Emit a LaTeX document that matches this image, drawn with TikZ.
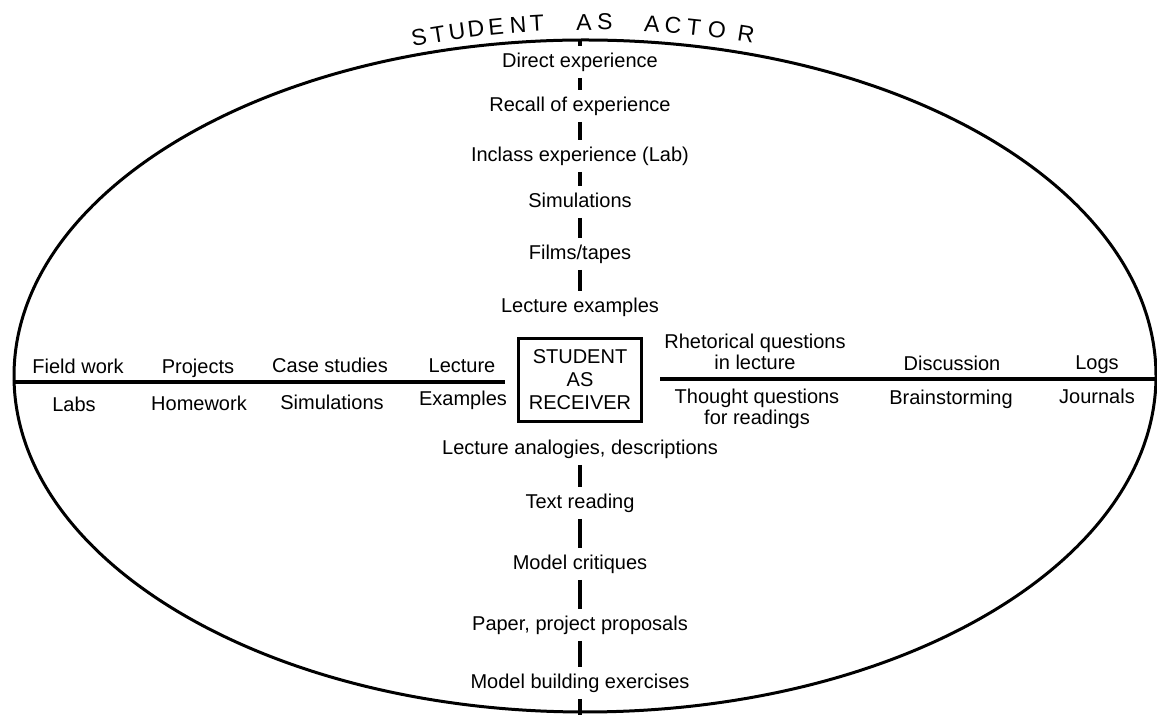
\documentclass[tikz,border=0pt]{standalone}
\usepackage{fontspec}
\setmainfont{Liberation Sans}
\usepackage{tikz}
\usetikzlibrary{shapes.geometric}

\begin{document}
\begin{tikzpicture}[x=0.5pt,y=-0.5pt,
	lbl/.style={font=\fontsize{10pt}{10.5pt}\selectfont,inner sep=3pt,text height=7.5pt,text depth=2pt},
	pair/.style={font=\fontsize{10pt}{10.5pt}\selectfont,align=center,inner sep=0pt},
	bar/.style={line width=2pt},
	rule/.style={line width=1.6pt}]
	\useasboundingbox (0,0) rectangle (1157,715);
	\node[draw,ellipse,line width=1.5pt,minimum width=571pt,minimum height=336pt,inner sep=0pt] (actor) at (585,376) {};
	% title bent over the top of the ellipse
	\foreach \c/\px [count=\i] in {S/419,T/438,U/457,D/476,E/496,N/518,T/537,A/584,S/605,A/652,C/673,T/694,O/717,R/746} {
		\pgfmathsetmacro{\ang}{asin((\px-592)/970)}
		\pgfmathsetmacro{\rot}{-\ang}
		\node[font=\fontsize{11.5pt}{11.5pt}\selectfont,rotate=\rot,inner sep=0pt] (title\i) at (\px,{992-970*cos(\ang)}) {\c};
	}
	% vertical scale
	\node[lbl] (direct) at (580,62) {Direct experience};
	\node[lbl] (recall) at (580,106) {Recall of experience};
	\node[lbl] (inclass) at (580,156) {Inclass experience (Lab)};
	\node[lbl] (simul) at (580,202) {Simulations};
	\node[lbl] (films) at (580,254) {Films/tapes};
	\node[lbl] (lecex) at (580,307) {Lecture examples};
	\node[draw,line width=1.8pt,align=center,font=\fontsize{10pt}{11.5pt}\selectfont,minimum width=61.5pt,minimum height=41.5pt,inner sep=0pt] (receiver) at (580,380) {STUDENT\\AS\\RECEIVER};
	\node[lbl] (analog) at (580,449) {Lecture analogies, descriptions};
	\node[lbl] (reading) at (580,503) {Text reading};
	\node[lbl] (critique) at (580,564) {Model critiques};
	\node[lbl] (proposal) at (580,625) {Paper, project proposals};
	\node[lbl] (building) at (580,683) {Model building exercises};
	\coordinate (crown) at (580,40);
	\coordinate (base) at (580,716);
	\draw[bar] (crown) -- (direct);
	\foreach \a/\b in {direct/recall,recall/inclass,inclass/simul,simul/films,films/lecex,analog/reading,reading/critique,critique/proposal,proposal/building}
		\draw[bar] (\a) -- (\b);
	\draw[bar] (building) -- (base);
	% horizontal scale, left
	\coordinate (lend) at (505,382);
	\draw[rule] (actor.west |- lend) -- (lend);
	\node[lbl] (field) at (78,368) {Field work};
	\node[lbl] (labs) at (74,406) {Labs};
	\node[lbl] (projects) at (198,368) {Projects};
	\node[lbl] (homework) at (199,405) {Homework};
	\node[lbl] (cases) at (330,367) {Case studies};
	\node[lbl] (simulL) at (332,404) {Simulations};
	\node[lbl] (lecture) at (462,367) {Lecture};
	\node[lbl] (examples) at (463,400) {Examples};
	% horizontal scale, right
	\coordinate (rstart) at (660,379);
	\draw[rule] (rstart) -- (actor.east |- rstart);
	\node[pair] (rhet) at (755,352) {Rhetorical questions\\in lecture};
	\node[pair] (thought) at (757,409) {Thought questions\\for readings};
	\node[lbl] (discuss) at (952,365) {Discussion};
	\node[lbl] (brain) at (951,399) {Brainstorming};
	\node[lbl] (logs) at (1097,364) {Logs};
	\node[lbl] (journals) at (1097,398) {Journals};
\end{tikzpicture}
\end{document}
